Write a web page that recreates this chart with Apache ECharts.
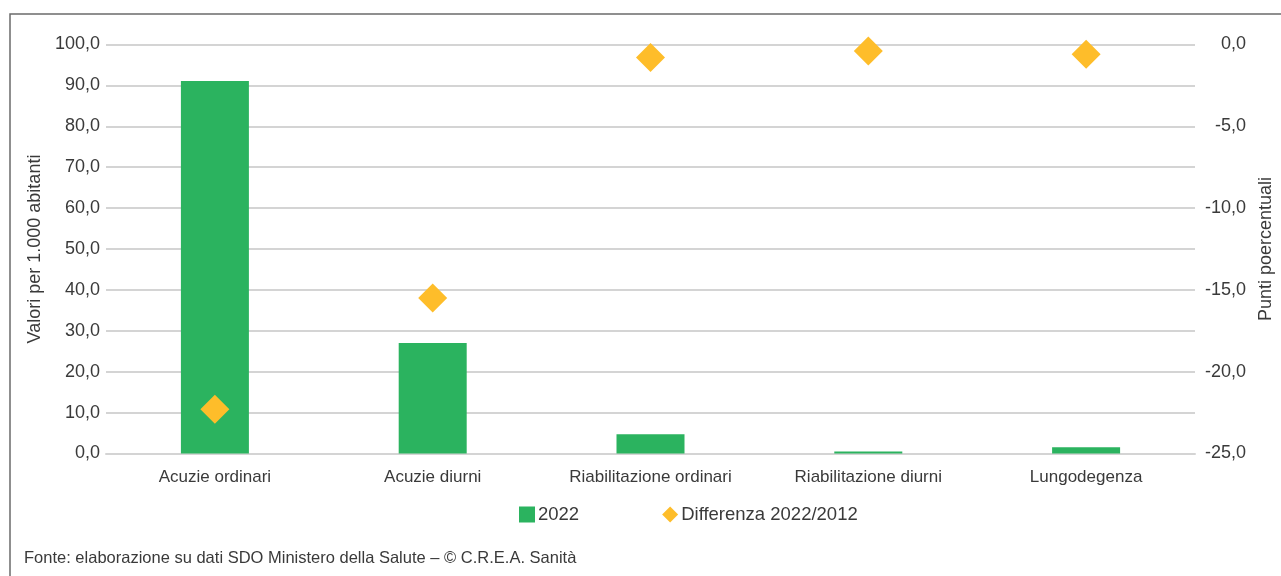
<!DOCTYPE html>
<html><head><meta charset="utf-8">
<script src="https://cdn.jsdelivr.net/npm/echarts@6/dist/echarts.min.js"></script>
<style>html,body{margin:0;padding:0;background:#fff}#c{width:1281px;height:576px}</style>
</head><body><div id="c"></div>
<script>
const categories = ['Acuzie ordinari','Acuzie diurni','Riabilitazione ordinari','Riabilitazione diurni','Lungodegenza'];
const values2022 = [91.1, 27.0, 4.7, 0.5, 1.5];
const diff2022_2012 = [-22.3, -15.5, -0.8, -0.4, -0.6];
const seriesNames = ['2022', 'Differenza 2022/2012'];
const leftAxisName = 'Valori per 1.000 abitanti';
const rightAxisName = 'Punti poercentuali';
const sourceText = 'Fonte: elaborazione su dati SDO Ministero della Salute – © C.R.E.A. Sanità';

const FONT = '"Liberation Sans", Arial, sans-serif';
const TXT = '#3a3a3a';
const fmt = v => v.toFixed(1).replace('.', ',');
const chart = echarts.init(document.getElementById('c'), null, {renderer:'canvas'});
chart.setOption({
  animation: false,
  textStyle: {fontFamily: FONT, color: TXT},
  grid: {left: 106, right: 86, top: 44.5, bottom: 122.5, containLabel: false, outerBoundsMode: 'none'},
  graphic: [
    {type:'rect', shape:{x:10, y:14, width:1400, height:700}, style:{fill:'none', stroke:'#6b6b6b', lineWidth:1.5}, silent:true},
    {type:'text', left: 24, top: 550, style:{text: sourceText, font: '16.5px ' + FONT, fill: TXT}}
  ],
  legend: {
    bottom: 47, left: 514,
    itemGap: 83, itemWidth: 16, itemHeight: 16,
    textStyle: {fontFamily: FONT, fontSize: 18.5, color: TXT, padding:[0,0,0,-2]},
    data: [{name: seriesNames[0], icon: 'rect', itemStyle:{color:'#2bb35f'}}, {name: seriesNames[1], icon: 'diamond', itemStyle:{color:'#febd2a', opacity:1}}]
  },
  xAxis: {
    type: 'category', data: categories,
    axisLine: {show: true, lineStyle: {color: '#d4d4d4', width: 2}},
    axisTick: {show: false},
    axisLabel: {fontFamily: FONT, fontSize: 17, color: TXT, margin: 15, interval: 0}
  },
  yAxis: [
    {
      type: 'value', min: 0, max: 100, interval: 10, position: 'left',
      name: leftAxisName, nameLocation: 'middle', nameRotate: 90, nameGap: 45,
      nameTextStyle: {fontFamily: FONT, fontSize: 18, color: TXT},
      axisLine: {show: false}, axisTick: {show: false},
      splitLine: {lineStyle: {color: '#d4d4d4', width: 2}},
      axisLabel: {fontFamily: FONT, fontSize: 18, color: TXT, margin: 6, formatter: fmt}
    },
    {
      type: 'value', min: -25, max: 0, interval: 5, position: 'right',
      name: rightAxisName, nameLocation: 'middle', nameRotate: 90, nameGap: 62,
      nameTextStyle: {fontFamily: FONT, fontSize: 18, color: TXT},
      axisLine: {show: false}, axisTick: {show: false},
      splitLine: {show: false},
      axisLabel: {fontFamily: FONT, fontSize: 18, color: TXT, margin: 51, align: 'right', formatter: fmt}
    }
  ],
  series: [
    {name: seriesNames[0], type: 'bar', yAxisIndex: 0, data: values2022, barWidth: 68,
     itemStyle: {color: '#2bb35f'}},
    {name: seriesNames[1], type: 'scatter', yAxisIndex: 1, data: diff2022_2012,
     symbol: 'diamond', symbolSize: 29, itemStyle: {color: '#febd2a', opacity: 1}, z: 5}
  ]
});
</script></body></html>
